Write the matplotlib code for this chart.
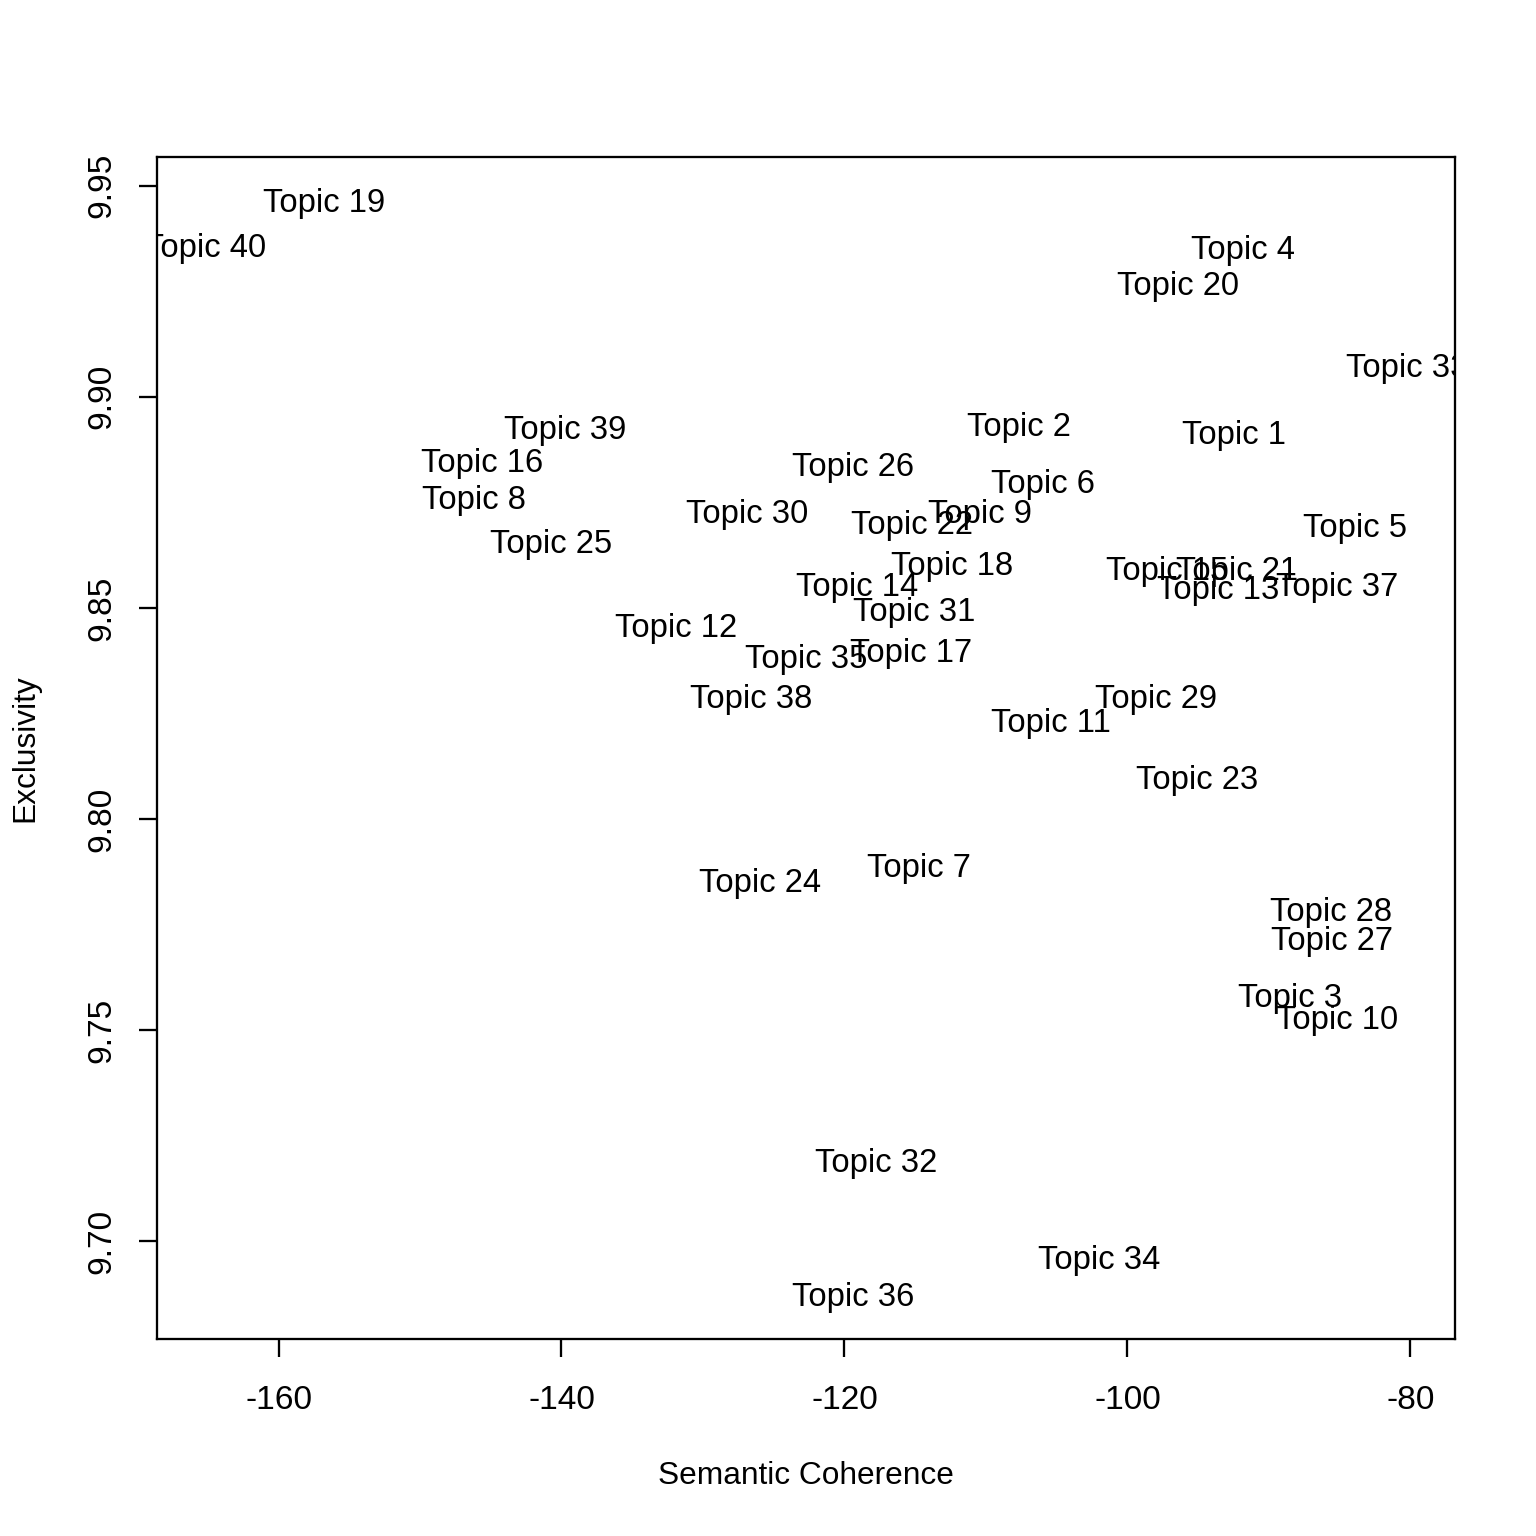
import numpy as np
import matplotlib
matplotlib.use("Agg")
import matplotlib.pyplot as plt

plt.rcParams['font.family'] = ['Liberation Sans', 'DejaVu Sans']

# topic number, semantic coherence, exclusivity
topics = [19, 40, 4, 20, 33, 39, 2, 1, 16, 26, 6, 8, 30, 9, 22, 5, 25, 18,
          15, 21, 13, 37, 14, 31, 12, 17, 35, 38, 29, 11, 23, 7, 24, 28, 27,
          3, 10, 32, 34, 36]
coherence = [-156.75, -165.19, -91.87, -96.40, -80.25, -139.75, -107.70,
             -92.47, -145.62, -119.40, -105.97, -146.22, -126.89, -110.46,
             -115.23, -83.92, -140.74, -112.40, -97.21, -92.26, -93.60,
             -85.16, -119.08, -115.05, -131.91, -115.30, -122.72, -126.61,
             -97.99, -105.44, -95.09, -114.77, -125.94, -85.62, -85.51,
             -88.48, -85.16, -117.77, -101.98, -119.40]
exclusivity = [9.9464, 9.9356, 9.9353, 9.9268, 9.9072, 9.8925, 9.8934,
               9.8915, 9.8847, 9.8839, 9.8799, 9.8759, 9.8726, 9.8726,
               9.8702, 9.8695, 9.8655, 9.8605, 9.8593, 9.8593, 9.8548,
               9.8555, 9.8555, 9.8494, 9.8458, 9.8397, 9.8383, 9.8290,
               9.8288, 9.8231, 9.8096, 9.7888, 9.7852, 9.7784, 9.7715,
               9.7580, 9.7528, 9.7189, 9.6960, 9.6872]

x_ticks = [-160, -140, -120, -100, -80]
y_ticks = [9.70, 9.75, 9.80, 9.85, 9.90, 9.95]

fig = plt.figure(figsize=(7, 7), dpi=1536 / 7)
ax = fig.add_axes([157 / 1536, 1 - 1339 / 1536, 1298 / 1536, 1182 / 1536])

# R style 4% padding around the data
x = np.array(coherence)
y = np.array(exclusivity)
xr = x.max() - x.min()
yr = y.max() - y.min()
ax.set_xlim(x.min() - 0.04 * xr, x.max() + 0.04 * xr)
ax.set_ylim(y.min() - 0.04 * yr, y.max() + 0.04 * yr)

for t, cx, cy in zip(topics, coherence, exclusivity):
    ax.text(cx, cy - 0.0006, f"Topic {t}", ha="center", va="center",
            fontsize=10.75, color="black", clip_on=True)

ax.set_xticks(x_ticks)
ax.set_xticklabels([str(v) for v in x_ticks])
ax.set_yticks(y_ticks)
ax.set_yticklabels([f"{v:.2f}" for v in y_ticks], rotation=90, va="center")
ax.tick_params(direction="out", length=6, width=0.75, labelsize=11)
ax.tick_params(axis="x", pad=9)
ax.tick_params(axis="y", pad=7)
for s in ax.spines.values():
    s.set_linewidth(0.75)

ax.set_xlabel("Semantic Coherence", fontsize=10.4)
ax.set_ylabel("Exclusivity", fontsize=10.4)
ax.xaxis.set_label_coords(0.5, (1339 - 1476) / 1182)
ax.yaxis.set_label_coords((25 - 157) / 1298, 0.5)
ax.xaxis.label.set_va("center")
ax.yaxis.label.set_va("center")

fig.savefig("out.png", dpi=1536 / 7, facecolor="white")
